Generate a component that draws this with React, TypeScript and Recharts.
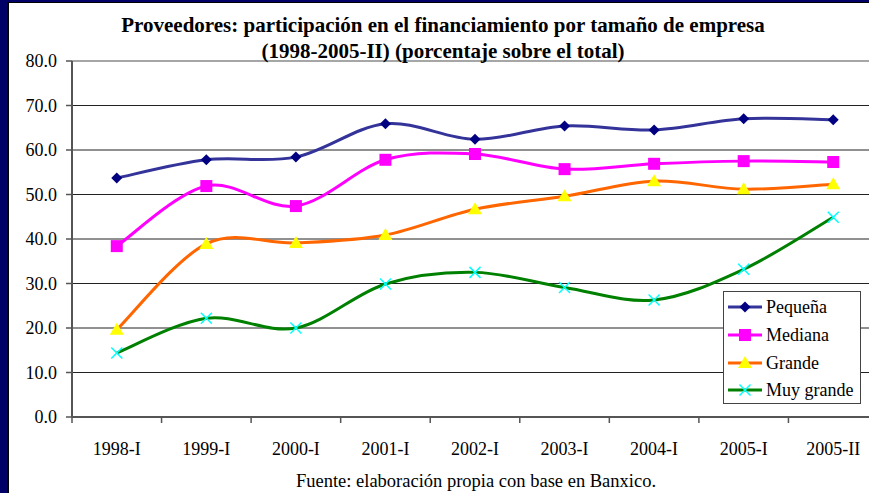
import React from 'react';
import { LineChart, Line, XAxis, YAxis, ReferenceLine } from 'recharts';

const categories = ['1998-I', '1999-I', '2000-I', '2001-I', '2002-I', '2003-I', '2004-I', '2005-I', '2005-II'];
const pequena = [53.7, 57.8, 58.4, 65.9, 62.4, 65.4, 64.5, 67.0, 66.8];
const mediana = [38.4, 51.9, 47.4, 57.8, 59.1, 55.7, 56.9, 57.5, 57.3];
const grande = [19.6, 38.9, 39.1, 40.9, 46.7, 49.6, 53.0, 51.2, 52.3];
const muyGrande = [14.4, 22.2, 20.0, 29.9, 32.5, 29.1, 26.3, 33.2, 44.9];
const seriesNames = ['Pequeña', 'Mediana', 'Grande', 'Muy grande'];
const yTicks = [0, 10, 20, 30, 40, 50, 60, 70, 80];
const gridValues = [10, 20, 30, 40, 50, 60, 70];
const titleLines = [
  'Proveedores: participación en el financiamiento por tamaño de empresa',
  '(1998-2005-II) (porcentaje sobre el total)',
];
const sourceNote = 'Fuente: elaboración propia con base en Banxico.';

const data = categories.map((c, i) => ({
  idx: i,
  cat: c,
  pequena: pequena[i],
  mediana: mediana[i],
  grande: grande[i],
  muyGrande: muyGrande[i],
}));

type MarkerKind = 'diamond' | 'square' | 'triangle' | 'x';
const series: { key: string; name: string; line: string; marker: MarkerKind; markerColor: string }[] = [
  { key: 'pequena', name: seriesNames[0], line: '#333399', marker: 'diamond', markerColor: '#000080' },
  { key: 'mediana', name: seriesNames[1], line: '#FF00FF', marker: 'square', markerColor: '#FF00FF' },
  { key: 'grande', name: seriesNames[2], line: '#FF6600', marker: 'triangle', markerColor: '#FFFF00' },
  { key: 'muyGrande', name: seriesNames[3], line: '#008000', marker: 'x', markerColor: '#00FFFF' },
];

const FONT = '"Liberation Serif", "Times New Roman", serif';

// Excel-like smoothed line (Catmull-Rom Bezier)
function excelCurve(context: any) {
  let pts: [number, number][] = [];
  return {
    areaStart() {},
    areaEnd() {},
    lineStart() {
      pts = [];
    },
    lineEnd() {
      const n = pts.length;
      if (!n) return;
      context.moveTo(pts[0][0], pts[0][1]);
      for (let i = 0; i < n - 1; i++) {
        const p0 = pts[Math.max(i - 1, 0)];
        const p1 = pts[i];
        const p2 = pts[i + 1];
        const p3 = pts[Math.min(i + 2, n - 1)];
        context.bezierCurveTo(
          p1[0] + (p2[0] - p0[0]) / 6,
          p1[1] + (p2[1] - p0[1]) / 6,
          p2[0] - (p3[0] - p1[0]) / 6,
          p2[1] - (p3[1] - p1[1]) / 6,
          p2[0],
          p2[1]
        );
      }
    },
    point(x: number, y: number) {
      pts.push([+x, +y]);
    },
  };
}

function Marker({ kind, color, cx, cy }: { kind: MarkerKind; color: string; cx: number; cy: number }) {
  if (kind === 'diamond') {
    const r = 5.5;
    return <polygon points={`${cx},${cy - r} ${cx + r},${cy} ${cx},${cy + r} ${cx - r},${cy}`} fill={color} />;
  }
  if (kind === 'square') {
    return <rect x={cx - 6} y={cy - 6} width={12} height={12} fill={color} />;
  }
  if (kind === 'triangle') {
    return <polygon points={`${cx},${cy - 7} ${cx + 7},${cy + 5} ${cx - 7},${cy + 5}`} fill={color} />;
  }
  const r = 5.5;
  return (
    <g stroke={color} strokeWidth={1.5}>
      <line x1={cx - r} y1={cy - r} x2={cx + r} y2={cy + r} />
      <line x1={cx - r} y1={cy + r} x2={cx + r} y2={cy - r} />
    </g>
  );
}

const xTickValues = categories.flatMap((_, i) => [i - 0.5, i]).concat([categories.length - 0.5]);

function XTick(props: any) {
  const { x, y, payload } = props;
  const v = payload.value;
  if (Number.isInteger(v)) {
    return (
      <text x={x} y={y + 38} textAnchor="middle" fontFamily={FONT} fontSize={18} fill="#000">
        {categories[v]}
      </text>
    );
  }
  return <line x1={x} x2={x} y1={y} y2={y + 6} stroke="#555" strokeWidth={1.5} />;
}

export default function App() {
  const legendRowY = [307, 335, 363, 390];
  return (
    <div style={{ position: 'absolute', left: 0, top: 0, width: 869, height: 493, overflow: 'hidden', background: '#fff' }}>
      <LineChart width={880} height={493} data={data} margin={{ top: 61, right: 2, bottom: 0, left: 0 }}>
        {gridValues.map((g) => (
          <ReferenceLine key={g} y={g} stroke="#222" strokeWidth={1} />
        ))}
        <ReferenceLine y={80} stroke="#888" strokeWidth={1.5} />
        <XAxis
          dataKey="idx"
          type="number"
          domain={[-0.5, categories.length - 0.5]}
          ticks={xTickValues}
          interval={0}
          tickLine={false}
          tickSize={0}
          tickMargin={0}
          tick={<XTick />}
          height={76}
          axisLine={{ stroke: '#555', strokeWidth: 2 }}
        />
        <YAxis
          domain={[0, 80]}
          ticks={yTicks}
          interval={0}
          width={72}
          tickFormatter={(v: number) => v.toFixed(1)}
          tick={{ fontFamily: FONT, fontSize: 18, fill: '#000' }}
          tickSize={6}
          tickMargin={9}
          tickLine={{ stroke: '#555', strokeWidth: 1.5 }}
          axisLine={{ stroke: '#555', strokeWidth: 2 }}
        />
        {series.map((s) => (
          <Line
            key={s.key}
            dataKey={s.key}
            name={s.name}
            type={excelCurve as any}
            stroke={s.line}
            strokeWidth={3}
            isAnimationActive={false}
            dot={(p: any) => (
              <Marker key={`${s.key}-${p.index}`} kind={s.marker} color={s.markerColor} cx={p.cx} cy={p.cy} />
            )}
            activeDot={false}
          />
        ))}
      </LineChart>
      <svg width={869} height={493} style={{ position: 'absolute', left: 0, top: 0, pointerEvents: 'none' }}>
        <text x={443} y={32} textAnchor="middle" fontFamily={FONT} fontWeight="bold" fontSize={21} fill="#000">
          {titleLines[0]}
        </text>
        <text x={443} y={57.5} textAnchor="middle" fontFamily={FONT} fontWeight="bold" fontSize={21} fill="#000">
          {titleLines[1]}
        </text>
        <text x={476} y={487} textAnchor="middle" fontFamily={FONT} fontSize={18.5} fill="#000">
          {sourceNote}
        </text>
        <rect x={723.5} y={291.5} width={137} height={112} fill="#fff" stroke="#444" strokeWidth={1} />
        {series.map((s, i) => (
          <g key={s.key}>
            <line x1={728} x2={762} y1={legendRowY[i]} y2={legendRowY[i]} stroke={s.line} strokeWidth={3} />
            <Marker kind={s.marker} color={s.markerColor} cx={745} cy={legendRowY[i]} />
            <text x={766} y={legendRowY[i] + 6} fontFamily={FONT} fontSize={18} fill="#000">
              {s.name}
            </text>
          </g>
        ))}
        <rect x={0} y={0} width={7} height={493} fill="#000066" />
        <rect x={7} y={0} width={2} height={493} fill="#000" />
        <rect x={0} y={0} width={869} height={2} fill="#000066" />
        <rect x={7} y={2} width={862} height={1} fill="#000" />
      </svg>
    </div>
  );
}
